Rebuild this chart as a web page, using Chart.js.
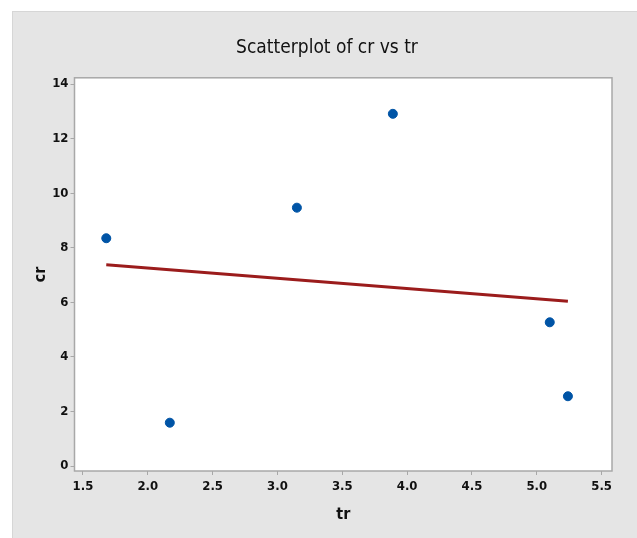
<!DOCTYPE html>
<html lang="en">
<head>
    <meta charset="UTF-8">
    <title>Scatterplot of cr vs tr</title>
    <script src="https://cdn.jsdelivr.net/npm/chart.js"></script>
    <style>
        body {
            margin: 0;
            background-color: #fff;
        }
        #wrap {
            width: 637px;
            height: 538px;
        }
    </style>
</head>
<body>
    <div id="wrap"><canvas id="scatterChart"></canvas></div>

    <script>
        // Data
        const trValues = [1.68, 2.17, 3.15, 3.89, 5.10, 5.24];
        const crValues = [8.35, 1.59, 9.47, 12.91, 5.27, 2.56];

        // Fitted line end points
        const fitX = [1.68, 5.24];
        const fitY = [7.38, 6.04];

        const xTicks = [1.5, 2.0, 2.5, 3.0, 3.5, 4.0, 4.5, 5.0, 5.5];
        const yTicks = [0, 2, 4, 6, 8, 10, 12, 14];

        const labelFont = "'DejaVu Sans Condensed', 'Liberation Sans', sans-serif";

        // Gray panel, white plot area and frame
        const panelPlugin = {
            id: 'panel',
            afterLayout(chart) {
                // centre the title over the gray panel, not the whole canvas
                chart.titleBlock.left = 42;
            },
            beforeDraw(chart) {
                const c = chart.ctx;
                const a = chart.chartArea;
                c.save();
                c.fillStyle = '#e5e5e5';
                c.fillRect(12, 11, chart.width - 12, chart.height - 11);
                c.fillStyle = '#d6d6d6';
                c.fillRect(12, 11, chart.width - 12, 1);
                c.fillRect(12, 11, 1, chart.height - 11);
                c.fillStyle = '#ffffff';
                c.fillRect(a.left, a.top, a.right - a.left, a.bottom - a.top);
                c.restore();
            },
            afterDraw(chart) {
                const c = chart.ctx;
                const a = chart.chartArea;
                c.save();
                c.strokeStyle = '#a8a8a8';
                c.lineWidth = 1.5;
                c.strokeRect(a.left, a.top, a.right - a.left, a.bottom - a.top);
                c.restore();
            }
        };

        const ctx = document.getElementById('scatterChart').getContext('2d');

        const chart = new Chart(ctx, {
            type: 'scatter',
            data: {
                datasets: [{
                    label: 'cr',
                    data: trValues.map((x, i) => ({ x: x, y: crValues[i] })),
                    backgroundColor: '#0054a6',
                    borderColor: '#0054a6',
                    pointRadius: 4.5,
                    pointHoverRadius: 4.5,
                    order: 1
                }, {
                    label: 'fit',
                    type: 'line',
                    data: fitX.map((x, i) => ({ x: x, y: fitY[i] })),
                    borderColor: '#9b1c1c',
                    borderWidth: 3,
                    pointRadius: 0,
                    fill: false,
                    order: 2
                }]
            },
            options: {
                responsive: true,
                maintainAspectRatio: false,
                animation: false,
                layout: {
                    padding: { top: 11, right: 25, bottom: 0, left: 0 }
                },
                plugins: {
                    legend: { display: false },
                    tooltip: { enabled: false },
                    title: {
                        display: true,
                        text: 'Scatterplot of cr vs tr',
                        color: '#111',
                        font: { family: labelFont, size: 19, weight: 'normal' },
                        padding: { top: 26, bottom: 18 }
                    }
                },
                scales: {
                    x: {
                        type: 'linear',
                        min: 1.435,
                        max: 5.58,
                        afterBuildTicks: axis => { axis.ticks = xTicks.map(v => ({ value: v })); },
                        afterFit: axis => { axis.height = 67; },
                        ticks: {
                            color: '#111',
                            padding: 4,
                            font: { family: labelFont, size: 13, weight: 'bold' },
                            callback: v => Number(v).toFixed(1)
                        },
                        grid: {
                            drawOnChartArea: false,
                            drawTicks: true,
                            tickLength: 4,
                            color: '#a8a8a8'
                        },
                        border: { display: false },
                        title: {
                            display: true,
                            text: 'tr',
                            color: '#111',
                            font: { family: labelFont, size: 16, weight: 'bold' },
                            padding: { top: 0, bottom: 14 }
                        }
                    },
                    y: {
                        type: 'linear',
                        min: -0.18,
                        max: 14.23,
                        afterBuildTicks: axis => { axis.ticks = yTicks.map(v => ({ value: v })); },
                        afterFit: axis => { axis.width = 74.5; },
                        ticks: {
                            color: '#111',
                            padding: 2,
                            font: { family: labelFont, size: 13, weight: 'bold' }
                        },
                        grid: {
                            drawOnChartArea: false,
                            drawTicks: true,
                            tickLength: 4,
                            color: '#a8a8a8'
                        },
                        border: { display: false },
                        title: {
                            display: true,
                            text: 'cr',
                            color: '#111',
                            font: { family: labelFont, size: 16, weight: 'bold' },
                            padding: { top: 31, bottom: 0 }
                        }
                    }
                }
            },
            plugins: [panelPlugin]
        });
    </script>
</body>
</html>
